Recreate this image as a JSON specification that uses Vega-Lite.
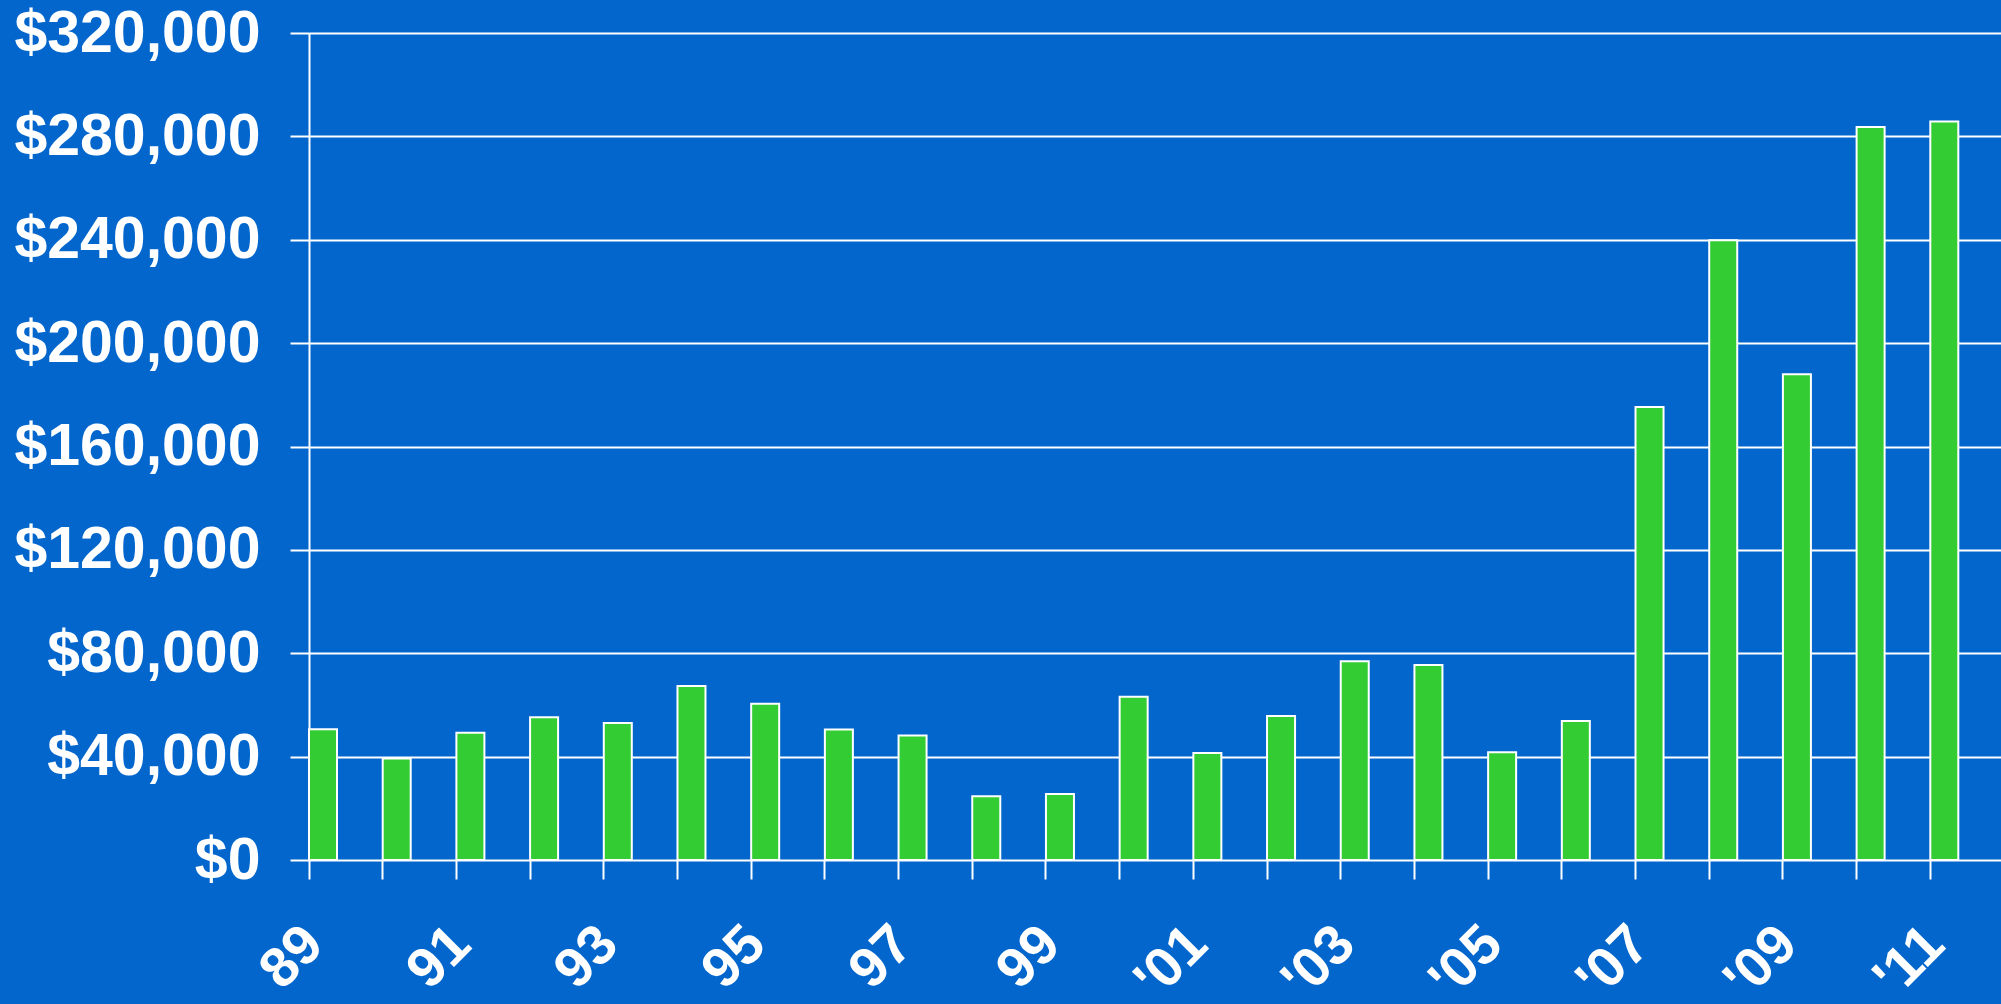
{
  "$schema": "https://vega.github.io/schema/vega-lite/v6.json",
  "width": 1695,
  "height": 827,
  "autosize": {"type": "none"},
  "padding": {"left": 309, "top": 33, "right": 0, "bottom": 144},
  "background": "#0366cc",
  "config": {"view": {"stroke": null}, "font": "Liberation Sans"},
  "data": {
    "values": [
      {"year": "89", "value": 50600},
      {"year": "90", "value": 39300},
      {"year": "91", "value": 49200},
      {"year": "92", "value": 55200},
      {"year": "93", "value": 53000},
      {"year": "94", "value": 67300},
      {"year": "95", "value": 60500},
      {"year": "96", "value": 50500},
      {"year": "97", "value": 48200},
      {"year": "98", "value": 24700},
      {"year": "99", "value": 25500},
      {"year": "'00", "value": 63200},
      {"year": "'01", "value": 41400},
      {"year": "'02", "value": 55700},
      {"year": "'03", "value": 76900},
      {"year": "'04", "value": 75500},
      {"year": "'05", "value": 41700},
      {"year": "'06", "value": 53800},
      {"year": "'07", "value": 175300},
      {"year": "'08", "value": 239800},
      {"year": "'09", "value": 188000},
      {"year": "'10", "value": 283600},
      {"year": "'11", "value": 285800}
    ]
  },
  "mark": {"type": "bar", "fill": "#33cc33", "stroke": "#ffffff", "strokeWidth": 2},
  "encoding": {
    "x": {
      "field": "year",
      "type": "ordinal",
      "sort": null,
      "scale": {"paddingInner": 0.62, "paddingOuter": 0.31, "align": 0, "round": false},
      "axis": {
        "title": null,
        "bandPosition": 0,
        "domain": false,
        "grid": false,
        "ticks": true,
        "tickSize": 19,
        "tickColor": "#ffffff",
        "tickWidth": 2,
        "labelAngle": -45,
        "labelAlign": "right",
        "labelBaseline": "middle",
        "labelPadding": 56,
        "labelOffset": -9,
        "labelFont": "Liberation Sans",
        "labelFontWeight": "bold",
        "labelFontSize": 56,
        "labelColor": "#ffffff",
        "labelOverlap": false,
        "labelLimit": 0,
        "labelExpr": "indexof([\"90\",\"92\",\"94\",\"96\",\"98\",\"'00\",\"'02\",\"'04\",\"'06\",\"'08\",\"'10\"], datum.value) >= 0 ? '' : datum.value"
      }
    },
    "y": {
      "field": "value",
      "type": "quantitative",
      "scale": {"domain": [0, 320000], "nice": false},
      "axis": {
        "title": null,
        "values": [0, 40000, 80000, 120000, 160000, 200000, 240000, 280000, 320000],
        "format": "$,.0f",
        "grid": true,
        "gridColor": "#ffffff",
        "gridWidth": 2,
        "gridOpacity": 1,
        "domain": true,
        "domainColor": "#ffffff",
        "domainWidth": 2,
        "ticks": true,
        "tickSize": 19,
        "tickColor": "#ffffff",
        "tickWidth": 2,
        "labelPadding": 30,
        "labelFont": "Liberation Sans",
        "labelFontWeight": "bold",
        "labelFontSize": 59,
        "labelColor": "#ffffff",
        "labelOverlap": false,
        "labelLimit": 0
      }
    }
  }
}
